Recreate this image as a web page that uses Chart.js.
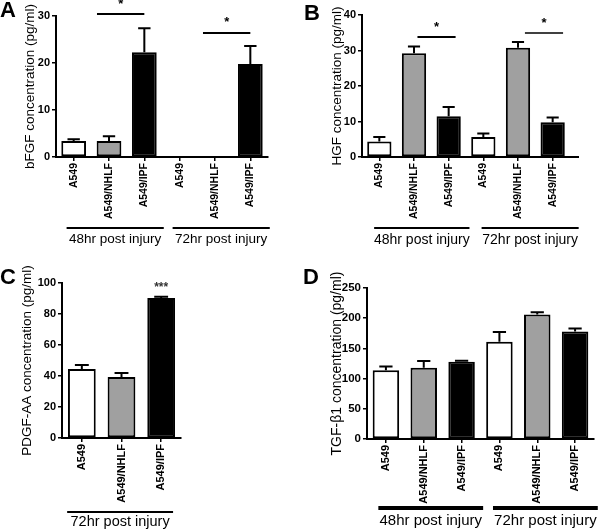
<!DOCTYPE html>
<html><head><meta charset="utf-8">
<script src="https://cdn.jsdelivr.net/npm/chart.js@4"></script>
<style>
body{margin:0;background:#fff;width:600px;height:530px;position:relative;overflow:hidden}
canvas{position:absolute}
</style></head><body>
<canvas id="cA" width="300" height="265" style="left:0;top:0"></canvas>
<canvas id="cB" width="300" height="265" style="left:300px;top:0"></canvas>
<canvas id="cC" width="300" height="265" style="left:0;top:265px"></canvas>
<canvas id="cD" width="300" height="265" style="left:300px;top:265px"></canvas>
<script>
// ---- data ----
const catsSix = ['A549','A549/NHLF','A549/IPF','A549','A549/NHLF','A549/IPF'];
const catsThree = ['A549','A549/NHLF','A549/IPF'];
const groupLabels = ['48hr post injury','72hr post injury'];
const groupLabelsC = ['72hr post injury'];

const bfgfMean = [3.4, 3.4, 22.3, 0.2, 0, 19.8];
const bfgfSem  = [0.4, 1.0, 5.1, 0, 0, 3.8];
const hgfMean  = [4.4, 29.2, 11.5, 5.6, 30.8, 9.8];
const hgfSem   = [1.2, 1.9, 2.6, 1.0, 1.6, 1.3];
const pdgfMean = [44.5, 39.3, 90.3];
const pdgfSem  = [2.6, 2.6, 0.8];
const tgfMean  = [114, 118, 128, 161, 206, 178];
const tgfSem   = [6, 11, 1.5, 16, 4, 5];

const yTicksA = [0, 30, 10];
const yTicksB = [0, 40, 10];
const yTicksC = [0, 100, 20];
const yTicksD = [0, 250, 50];

const FONT = '"Liberation Sans", Arial, sans-serif';
const fillCycle = ['#ffffff', '#a0a0a0', '#000000'];

const deco = {
  id: 'deco',
  afterDatasetsDraw(chart, args, o) {
    const meta = chart.getDatasetMeta(0);
    const ys = chart.scales.y;
    const ds = chart.data.datasets[0].data;
    const ctx = chart.ctx;
    ctx.save();
    ctx.strokeStyle = '#000'; ctx.lineWidth = 2;
    meta.data.forEach((bar, i) => {
      const s = o.sem[i];
      if (!s) return;
      const top = ys.getPixelForValue(ds[i] + s);
      const x = bar.x, w = bar.width;
      ctx.beginPath();
      ctx.moveTo(x, bar.y); ctx.lineTo(x, top);
      ctx.moveTo(x - w / 4, top); ctx.lineTo(x + w / 4, top);
      ctx.stroke();
    });
    ctx.restore();
  },
  afterDraw(chart, args, o) {
    const ctx = chart.ctx;
    const xs = chart.scales.x, ys = chart.scales.y;
    const ca = chart.chartArea;
    const n = chart.data.labels.length;
    const bin = (ca.right - ca.left) / n;
    ctx.save();
    if (o.xExtend) {
      ctx.strokeStyle = '#000'; ctx.lineWidth = 2;
      ctx.beginPath(); ctx.moveTo(ca.right - 1, ca.bottom); ctx.lineTo(ca.right + o.xExtend, ca.bottom); ctx.stroke();
    }
    ctx.fillStyle = '#000';
    ctx.font = 'bold 22px ' + FONT;
    ctx.textAlign = 'left'; ctx.textBaseline = 'top';
    ctx.fillText(o.letter, o.letterX, o.letterY);
    (o.groups || []).forEach(g => {
      const x1 = xs.getPixelForValue(g.from) + g.s * bin;
      const x2 = xs.getPixelForValue(g.to) + g.e * bin;
      ctx.strokeStyle = '#000'; ctx.lineWidth = o.groupLW;
      ctx.beginPath(); ctx.moveTo(x1, o.groupY); ctx.lineTo(x2, o.groupY); ctx.stroke();
      ctx.font = o.groupFont + 'px ' + FONT;
      ctx.textAlign = 'center'; ctx.textBaseline = 'middle';
      ctx.fillStyle = '#000';
      ctx.fillText(g.label, (x1 + x2) / 2 + (g.tdx || 0), o.groupTextY);
    });
    (o.sig || []).forEach(s => {
      const y = ys.getPixelForValue(s.value);
      ctx.fillStyle = s.color || '#000';
      if (s.b !== undefined) {
        const x1 = xs.getPixelForValue(s.a) + s.aOff * bin;
        const x2 = xs.getPixelForValue(s.b) + s.bOff * bin;
        ctx.strokeStyle = '#000'; ctx.lineWidth = s.lw || 2;
        ctx.beginPath(); ctx.moveTo(x1, y); ctx.lineTo(x2, y); ctx.stroke();
        ctx.font = 'bold 13px ' + FONT;
        ctx.textAlign = 'center'; ctx.textBaseline = 'middle';
        ctx.fillText(s.text, (x1 + x2) / 2, y - 10);
      } else {
        ctx.font = 'bold 12px ' + FONT;
        ctx.textAlign = 'center'; ctx.textBaseline = 'middle';
        ctx.fillText(s.text, xs.getPixelForValue(s.a), y);
      }
    });
    ctx.restore();
  }
};

function makePanel(id, cats, mean, sem, yt, title, L, d) {
  const W = 300, H = 265;
  new Chart(document.getElementById(id), {
    type: 'bar',
    data: {
      labels: cats,
      datasets: [{
        data: mean,
        backgroundColor: cats.map((c, i) => fillCycle[i % 3]),
        borderColor: '#000',
        borderWidth: 2,
        borderSkipped: false,
        barPercentage: 0.7,
        categoryPercentage: 1.0
      }]
    },
    options: {
      responsive: false,
      animation: false,
      devicePixelRatio: 1,
      layout: { padding: { left: 0, top: L.top, right: W - L.right, bottom: 0 } },
      plugins: { legend: { display: false }, tooltip: { enabled: false }, deco: Object.assign({ sem: sem }, d) },
      scales: {
        x: {
          offset: true,
          grid: { display: true, drawOnChartArea: false, drawTicks: true, tickLength: 4, color: '#000', lineWidth: 1.5, offset: false },
          border: { display: true, color: '#000', width: 2 },
          ticks: { color: '#000', font: { family: FONT, size: L.catFont, weight: 'bold' }, minRotation: 90, maxRotation: 90, autoSkip: false, padding: 2 },
          afterFit(s) { s.height = H - L.bottom; s.paddingLeft = 0; s.paddingRight = 0; }
        },
        y: {
          min: yt[0], max: yt[1],
          grid: { display: true, drawOnChartArea: false, drawTicks: true, tickLength: 4, color: '#000', lineWidth: 1.5 },
          border: { display: true, color: '#000', width: 2 },
          ticks: { stepSize: yt[2], color: '#000', font: { family: FONT, size: L.tickFont, weight: 'bold' }, padding: 2 },
          title: { display: true, text: title, color: '#000', font: { family: FONT, size: L.titleFont }, padding: { top: L.titleX - L.titleFont * 0.6, bottom: 0 } },
          afterFit(s) { s.width = L.left; s.paddingTop = 0; s.paddingBottom = 0; }
        }
      }
    },
    plugins: [deco]
  });
}

makePanel('cA', catsSix, bfgfMean, bfgfSem, yTicksA, 'bFGF concentration (pg/ml)',
  { left: 56, right: 268, top: 16, bottom: 157, catFont: 10.5, tickFont: 11, titleFont: 13.5, titleX: 30 },
  { letter: 'A', letterX: 0, letterY: 0,
    groups: [{ from: 0, to: 2, s: -0.2, e: 0.55, label: groupLabels[0] }, { from: 3, to: 5, s: -0.2, e: 0.55, label: groupLabels[1] }],
    groupY: 228, groupLW: 2, groupTextY: 239, groupFont: 13.5,
    sig: [{ a: 1, aOff: -0.34, b: 2, bOff: 0, value: 30.4, text: '*', lw: 2 },
          { a: 4, aOff: -0.34, b: 5, bOff: 0, value: 26.4, text: '*', lw: 2 }] });

makePanel('cB', catsSix, hgfMean, hgfSem, yTicksB, 'HGF concentration (pg/ml)',
  { left: 62, right: 270, top: 15, bottom: 157, catFont: 10.5, tickFont: 11, titleFont: 13.5, titleX: 37 },
  { letter: 'B', letterX: 4, letterY: 3, xExtend: 9,
    groups: [{ from: 0, to: 2, s: -0.15, e: 0.6, label: groupLabels[0] }, { from: 3, to: 5, s: -0.05, e: 0.75, label: groupLabels[1] }],
    groupY: 228, groupLW: 2, groupTextY: 240, groupFont: 14,
    sig: [{ a: 1, aOff: 0.1, b: 2, bOff: 0.2, value: 33.8, text: '*', lw: 2 },
          { a: 4, aOff: 0.2, b: 5, bOff: 0.3, value: 34.9, text: '*', lw: 1.5 }] });

makePanel('cC', catsThree, pdgfMean, pdgfSem, yTicksC, 'PDGF-AA concentration (pg/ml)',
  { left: 62, right: 181, top: 18, bottom: 173, catFont: 11, tickFont: 11, titleFont: 13.5, titleX: 27.5 },
  { letter: 'C', letterX: 0, letterY: 2,
    groups: [{ from: 0, to: 2, s: -0.37, e: 0.3, label: groupLabelsC[0] }],
    groupY: 247, groupLW: 2, groupTextY: 257, groupFont: 14.5,
    sig: [{ a: 2, value: 97, text: '***', color: '#333' }] });

makePanel('cD', catsSix, tgfMean, tgfSem, yTicksD, 'TGF-β1 concentration (pg/ml)',
  { left: 67, right: 294, top: 23, bottom: 174, catFont: 11, tickFont: 11.5, titleFont: 14, titleX: 37.5 },
  { letter: 'D', letterX: 3, letterY: 2,
    groups: [{ from: 0, to: 2, s: -0.2, e: 0.57, label: groupLabels[0] }, { from: 3, to: 5, s: -0.17, e: 0.6, label: groupLabels[1] }],
    groupY: 243, groupLW: 4, groupTextY: 256, groupFont: 15,
    sig: [] });
</script>
</body></html>
